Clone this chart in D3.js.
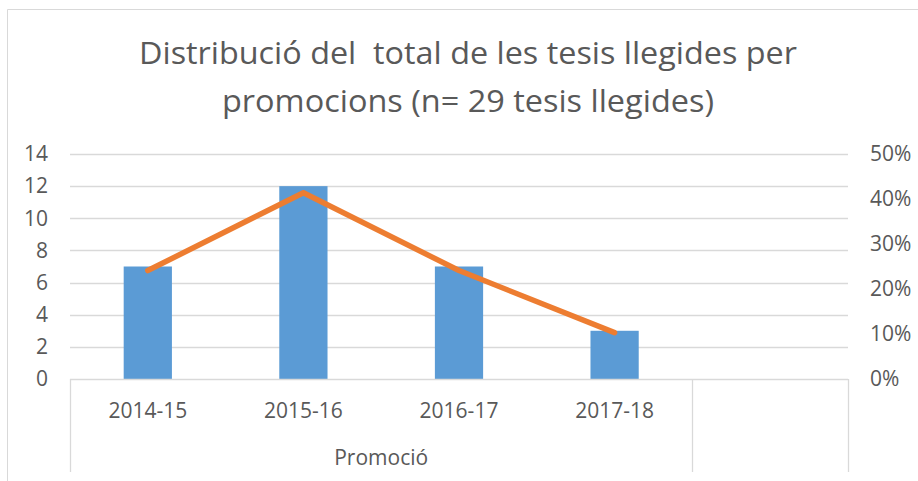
<!DOCTYPE html>
<html><head><meta charset="utf-8">
<script src="https://cdn.jsdelivr.net/npm/d3@7"></script>
<style>
html,body{margin:0;padding:0;background:#fff;}
svg{display:block;}
text{font-family:"Open Sans","Liberation Sans",sans-serif;fill:#595959;}
</style></head>
<body><svg id="chart" width="918" height="481"></svg>
<script>
const titleLines = ["Distribució del  total de les tesis llegides per", "promocions (n= 29 tesis llegides)"];
const categories = ["2014-15", "2015-16", "2016-17", "2017-18", ""];
const groupLabel = "Promoció";
const groupCategories = ["2014-15", "2015-16", "2016-17", "2017-18"];
const counts = [7, 12, 7, 3];
const shares = [0.241, 0.414, 0.241, 0.103];
const leftTicks = [0, 2, 4, 6, 8, 10, 12, 14];
const rightTicks = [0, 0.1, 0.2, 0.3, 0.4, 0.5];

const svg = d3.select("#chart");
const plot = {left: 70, right: 848, top: 154, bottom: 379};

// chart border
svg.append("path").attr("d", "M7.5,481 L7.5,9.5 L918,9.5")
  .attr("fill", "none").attr("stroke", "#d9d9d9").attr("stroke-width", 1);

// title
const tw = [658, 492];
const tx = [468, 468];
const ty = [64, 112];
titleLines.forEach((t, i) => {
  svg.append("text").attr("x", tx[i]).attr("y", ty[i]).attr("text-anchor", "middle")
    .style("font-size", "31px").style("font-weight", 400).style("white-space", "pre")
    .attr("textLength", tw[i]).attr("lengthAdjust", "spacingAndGlyphs")
    .text(t);
});

const x = d3.scaleBand().domain(categories.map((c, i) => i)).range([plot.left, plot.right]).padding(0);
const yL = d3.scaleLinear().domain([0, 14]).range([plot.bottom, plot.top]);
const yR = d3.scaleLinear().domain([0, 0.5]).range([plot.bottom, plot.top]);

// gridlines
svg.append("g").selectAll("line").data(leftTicks.filter(d => d > 0)).join("line")
  .attr("x1", plot.left).attr("x2", plot.right)
  .attr("y1", d => Math.round(yL(d)) + 0.5).attr("y2", d => Math.round(yL(d)) + 0.5)
  .attr("stroke", "#d9d9d9").attr("stroke-width", 1.3);

// left axis
const axL = svg.append("g").attr("transform", `translate(${plot.left},0)`)
  .call(d3.axisLeft(yL).tickValues(leftTicks).tickSize(0).tickPadding(22));
axL.select(".domain").remove();
axL.selectAll("text").style("font-size", "21px").style("font-family", "'Open Sans',sans-serif").attr("fill", "#595959");

// right axis
const axR = svg.append("g").attr("transform", `translate(${plot.right},0)`)
  .call(d3.axisRight(yR).tickValues(rightTicks).tickSize(0).tickPadding(22).tickFormat(d3.format(".0%")));
axR.select(".domain").remove();
axR.selectAll("text").style("font-size", "21px").style("font-family", "'Open Sans',sans-serif").attr("fill", "#595959");

// bars
const bw = x.bandwidth() * 0.31;
svg.append("g").selectAll("rect").data(counts).join("rect")
  .attr("x", (d, i) => x(i) + x.bandwidth() / 2 - bw / 2)
  .attr("y", d => yL(d)).attr("width", bw).attr("height", d => yL(0) - yL(d))
  .attr("fill", "#5b9bd5");

// category axis
const axis = svg.append("g");
axis.append("line").attr("x1", plot.left).attr("x2", plot.right)
  .attr("y1", plot.bottom + 0.5).attr("y2", plot.bottom + 0.5)
  .attr("stroke", "#d9d9d9").attr("stroke-width", 1.3);
const groupEnd = x(groupCategories.length - 1) + x.bandwidth();
[plot.left, groupEnd, plot.right].forEach(xx => {
  axis.append("line").attr("x1", Math.round(xx) + 0.5).attr("x2", Math.round(xx) + 0.5)
    .attr("y1", plot.bottom).attr("y2", 472).attr("stroke", "#d9d9d9").attr("stroke-width", 1.3);
});
axis.selectAll("text.cat").data(categories).join("text").attr("class", "cat")
  .attr("x", (d, i) => x(i) + x.bandwidth() / 2).attr("y", 418)
  .attr("text-anchor", "middle").style("font-size", "21px").text(d => d);
axis.append("text").attr("x", (plot.left + groupEnd) / 2).attr("y", 465)
  .attr("text-anchor", "middle").style("font-size", "21px").text(groupLabel);

// line
const line = d3.line().x((d, i) => x(i) + x.bandwidth() / 2).y(d => yR(d));
svg.append("path").datum(shares).attr("d", line)
  .attr("fill", "none").attr("stroke", "#ed7d31").attr("stroke-width", 5.5)
  .attr("stroke-linejoin", "round").attr("stroke-linecap", "round");
</script></body></html>
